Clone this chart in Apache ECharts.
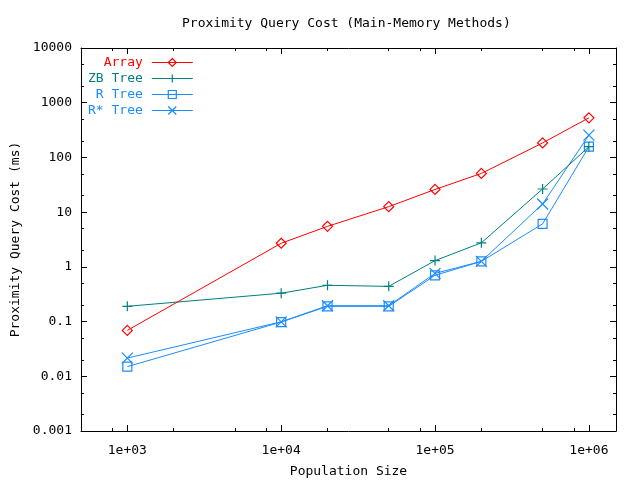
<!DOCTYPE html>
<html>
<head>
<meta charset="utf-8">
<script src="https://cdn.jsdelivr.net/npm/echarts@6/dist/echarts.min.js"></script>
<style>html,body{margin:0;padding:0;background:#fff}#c{width:640px;height:480px}</style>
</head>
<body>
<div id="c"></div>
<script>
const populations = [1e3, 1e4, 2e4, 5e4, 1e5, 2e5, 5e5, 1e6];
const arrayCost = [0.069, 2.7, 5.5, 12.6, 26, 51, 184, 530];
const zbTreeCost = [0.19, 0.33, 0.46, 0.44, 1.3, 2.75, 26.5, 157];
const rTreeCost = [0.015, 0.098, 0.19, 0.19, 0.70, 1.26, 6.1, 157];
const rStarTreeCost = [0.0215, 0.099, 0.195, 0.195, 0.76, 1.26, 14.1, 255];
const seriesNames = ['Array', 'ZB Tree', 'R Tree', 'R* Tree'];
const xMajorTicks = [1e3, 1e4, 1e5, 1e6];
const xMinorTicks = [800, 2000, 5000, 8000, 20000, 50000, 80000, 200000, 500000, 800000];
const yMajorTicks = [0.001, 0.01, 0.1, 1, 10, 100, 1000, 10000];
const yMinorTicks = [0.002, 0.005, 0.02, 0.05, 0.2, 0.5, 2, 5, 20, 50, 200, 500, 2000, 5000];

const FONT = 'DejaVu Sans Mono';
const colors = ['#ff0000', '#008080', '#1a8cff', '#1a8cff'];
const symbols = [
  'diamond',
  'path://M5,0L5,10M0,5L10,5',
  'rect',
  'path://M0,0L10,10M10,0L0,10'
];
const sizes = [10, 10, 9, 11];
const values = [arrayCost, zbTreeCost, rTreeCost, rStarTreeCost];

const xBase = {type: 'log', logBase: 10, min: 500, max: 1.5e6, gridIndex: 0};
const yBase = {type: 'log', logBase: 10, min: 0.001, max: 10000, gridIndex: 0};
const lineStyle = {color: '#000', width: 1};

function tickAxis(base, pos, vals, len, showLine) {
  return Object.assign({}, base, {
    position: pos,
    axisLine: {show: showLine, lineStyle: lineStyle},
    axisTick: {show: true, inside: true, length: len, customValues: vals, lineStyle: lineStyle},
    axisLabel: {show: false},
    splitLine: {show: false}
  });
}

const xAxes = [
  Object.assign({}, xBase, {
    position: 'bottom',
    name: 'Population Size', nameLocation: 'middle', nameGap: 34,
    nameTextStyle: {fontFamily: FONT, fontSize: 13, color: '#000'},
    axisLine: {show: true, lineStyle: lineStyle},
    axisTick: {show: true, inside: true, length: 6, customValues: xMajorTicks, lineStyle: lineStyle},
    axisLabel: {show: true, customValues: xMajorTicks, margin: 13, fontFamily: FONT, fontSize: 13, color: '#000',
      formatter: v => '1e+' + String(Math.round(Math.log10(v))).padStart(2, '0')},
    splitLine: {show: false}
  }),
  tickAxis(xBase, 'bottom', xMinorTicks, 3, false),
  tickAxis(xBase, 'top', xMajorTicks, 6, true),
  tickAxis(xBase, 'top', xMinorTicks, 3, false)
];
const yAxes = [
  Object.assign({}, yBase, {
    position: 'left',
    name: 'Proximity Query Cost (ms)', nameLocation: 'middle', nameGap: 56,
    nameTextStyle: {fontFamily: FONT, fontSize: 13, color: '#000'},
    axisLine: {show: true, lineStyle: lineStyle},
    axisTick: {show: true, inside: true, length: 6, customValues: yMajorTicks, lineStyle: lineStyle},
    axisLabel: {show: true, customValues: yMajorTicks, margin: 9, fontFamily: FONT, fontSize: 13, color: '#000',
      formatter: v => String(v)},
    splitLine: {show: false}
  }),
  tickAxis(yBase, 'left', yMinorTicks, 3, false),
  tickAxis(yBase, 'right', yMajorTicks, 6, true),
  tickAxis(yBase, 'right', yMinorTicks, 3, false)
];

const series = seriesNames.map((name, i) => ({
  name: name,
  type: 'line',
  xAxisIndex: 0,
  yAxisIndex: 0,
  data: populations.map((p, j) => [p, values[i][j]]),
  symbol: symbols[i],
  symbolSize: sizes[i],
  showSymbol: true,
  color: colors[i],
  lineStyle: {color: colors[i], width: 1},
  itemStyle: {color: 'rgba(0,0,0,0)', borderColor: colors[i], borderWidth: 1.2},
  emphasis: {disabled: true},
  animation: false,
  z: 10 - i
}));

const chart = echarts.init(document.getElementById('c'), null, {renderer: 'canvas'});
chart.setOption({
  backgroundColor: '#fff',
  animation: false,
  title: {
    text: 'Proximity Query Cost (Main-Memory Methods)',
    left: 177, top: 12,
    textStyle: {fontFamily: FONT, fontSize: 13, fontWeight: 'normal', color: '#000'}
  },
  legend: {
    orient: 'vertical',
    align: 'right',
    left: 83, top: 51,
    itemWidth: 41, itemHeight: 10, itemGap: 3,
    lineStyle: {width: 1},
    data: seriesNames.map((n, i) => ({
      name: n,
      textStyle: {color: colors[i]},
      itemStyle: {color: 'rgba(0,0,0,0)', borderColor: colors[i], borderWidth: 1.2},
      lineStyle: {color: colors[i], width: 1}
    })),
    textStyle: {fontFamily: FONT, fontSize: 13, lineHeight: 13, padding: [0, 4, 0, 0]}
  },
  grid: {left: 81, right: 24, top: 48, bottom: 49, containLabel: false, outerBoundsMode: 'none'},
  xAxis: xAxes,
  yAxis: yAxes,
  series: series
});
</script>
</body>
</html>
